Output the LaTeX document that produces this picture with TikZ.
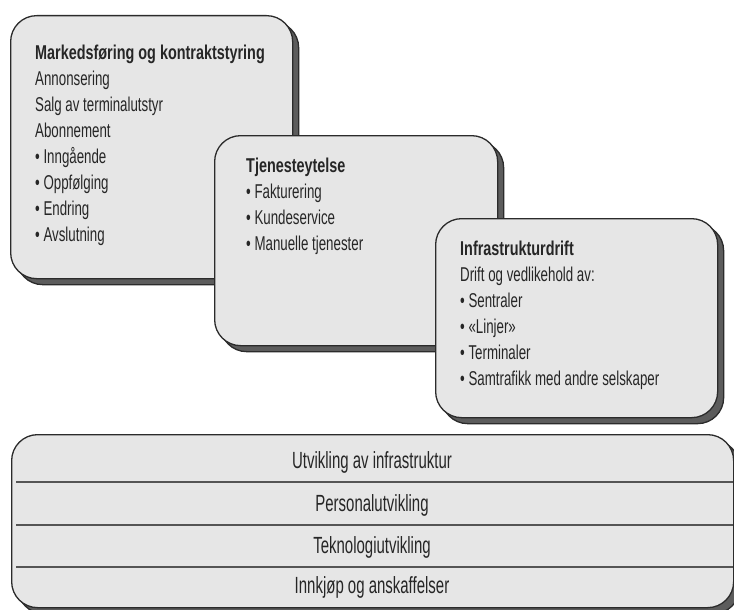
\documentclass[tikz,border=0pt]{standalone}
\usepackage{fontspec}
\setmainfont[FakeStretch=0.665, BoldFeatures={FakeStretch=0.72}]{Liberation Sans}
\newfontfamily\rowfont[FakeStretch=0.64]{Liberation Sans}
\usetikzlibrary{shadows}
\definecolor{boxfill}{HTML}{E6E6E6}
\definecolor{shadowfill}{HTML}{5C5C5C}
\definecolor{edge}{HTML}{2B2B2B}
\begin{document}
\begin{tikzpicture}[x=1pt,y=-1pt,
  panel/.style={draw=edge, line width=1.3pt, fill=boxfill, rounded corners=26pt,
    inner sep=0pt, anchor=north west,
    drop shadow={shadow xshift=6pt, shadow yshift=-6pt, fill=shadowfill,
      opacity=1, draw=edge, line width=1.3pt}},
  body/.style={anchor=north west, inner sep=0pt, align=left,
    font=\fontsize{20}{26}\selectfont, text=black!85},
  row/.style={inner sep=0pt, font=\rowfont\fontsize{23.4}{24}\selectfont, text=black!85},
  divider/.style={draw=edge!80, line width=1.3pt}]
\useasboundingbox (0,0) rectangle (734,610);

% three overlapping activity panels
\node[panel, minimum width=282pt, minimum height=263pt] (mk) at (10,15) {};
\node[panel, minimum width=283pt, minimum height=210pt] (tj) at (214,135) {};
\node[panel, minimum width=282pt, minimum height=199pt] (inf) at (435,218) {};

\node[body] (mktext) at (35,45) {\textbf{Markedsføring og kontraktstyring}\\
  Annonsering\\ Salg av terminalutstyr\\ Abonnement\\
  • Inngående\\ • Oppfølging\\ • Endring\\ • Avslutning};
\node[body] (tjtext) at (246,158) {\textbf{Tjenesteytelse}\\
  • Fakturering\\ • Kundeservice\\ • Manuelle tjenester};
\node[body] (inftext) at (460,241) {\textbf{Infrastrukturdrift}\\
  Drift og vedlikehold av:\\ • Sentraler\\ • «Linjer»\\ • Terminaler\\
  • Samtrafikk med andre selskaper};

% supporting activities
\node[panel, minimum width=722pt, minimum height=173pt] (base) at (11,434) {};
\draw[divider] (16,482) -- (733,482);
\draw[divider] (16,525) -- (733,525);
\draw[divider] (16,567) -- (733,567);
\node[row] (r1) at (372,462) {Utvikling av infrastruktur};
\node[row] (r2) at (372,505) {Personalutvikling};
\node[row] (r3) at (372,547) {Teknologiutvikling};
\node[row] (r4) at (372,587) {Innkjøp og anskaffelser};
\end{tikzpicture}
\end{document}
